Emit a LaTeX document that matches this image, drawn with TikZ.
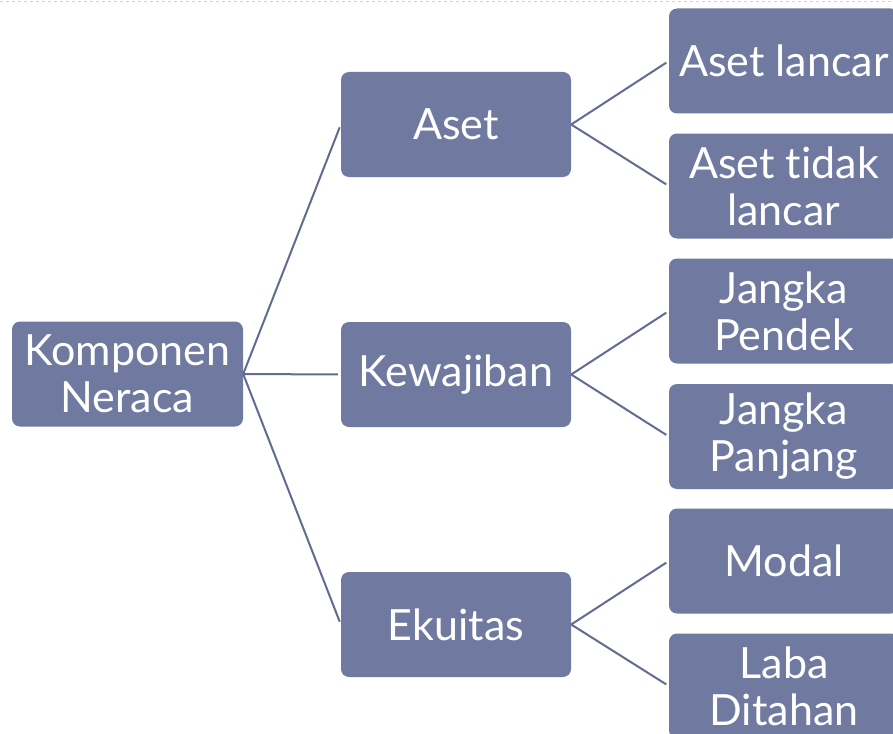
\documentclass[tikz,border=0pt]{standalone}
\usepackage{fontspec}
\setmainfont[Ligatures={NoCommon,NoDiscretionary}]{Lato}
\definecolor{boxfill}{RGB}{112,122,160}
\definecolor{linkcol}{RGB}{98,108,145}
\definecolor{rulecol}{RGB}{200,214,228}
\tikzset{
  card/.style={draw=none, fill=boxfill, rounded corners=8pt, text=white,
    minimum width=230pt, minimum height=105pt, inner sep=0pt,
    align=center, font=\fontsize{43}{47}\selectfont},
  link/.style={draw=linkcol, line width=2pt}
}
\begin{document}
\begin{tikzpicture}[x=1pt,y=-1pt]
  \clip (0,0) rectangle (893,733);
  \fill[white] (0,0) rectangle (893,733);
  \draw[rulecol, dashed, line width=0.8pt] (0,1) -- (893,1);

  % root
  \node[card, minimum width=231pt] (root) at (127.5,374) {Komponen\\Neraca};

  % second level
  \node[card] (aset) at (456,124.5) {Aset};
  \node[card] (kew)  at (456,374.5) {Kewajiban};
  \node[card] (eku)  at (456,624.5) {Ekuitas};

  % third level
  \node[card] (al)  at (784,61)    {Aset lancar};
  \node[card] (atl) at (784,186)   {Aset tidak\\lancar};
  \node[card] (jp)  at (784,311)   {Jangka\\Pendek};
  \node[card] (jpj) at (784,436.5) {Jangka\\Panjang};
  \node[card] (mod) at (784,561)   {Modal};
  \node[card] (lab) at (784,686)   {Laba\\Ditahan};

  % connectors
  \foreach \t in {aset,kew,eku}
    \draw[link, shorten >=3pt] (root.east) -- (\t.west);
  \draw[link, shorten >=3pt] (aset.east) -- (al.west);
  \draw[link, shorten >=3pt] (aset.east) -- (atl.west);
  \draw[link, shorten >=3pt] (kew.east) -- (jp.west);
  \draw[link, shorten >=3pt] (kew.east) -- (jpj.west);
  \draw[link, shorten >=3pt] (eku.east) -- (mod.west);
  \draw[link, shorten >=3pt] (eku.east) -- (lab.west);
\end{tikzpicture}
\end{document}
